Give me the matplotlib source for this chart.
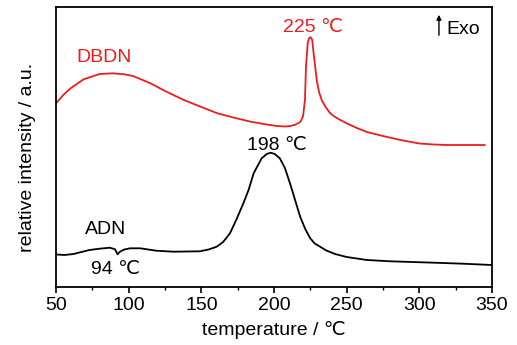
import matplotlib
matplotlib.use("Agg")
import matplotlib.pyplot as plt
from matplotlib.ticker import MultipleLocator

plt.rcParams['font.family'] = ['Liberation Sans', 'DejaVu Sans']

# DBDN curve (temperature / relative intensity, arbitrary units)
dbdn_T = [50, 55, 60, 69, 80, 89, 97, 103, 115, 126, 138, 150, 161, 172, 184, 195, 202, 208,
          211, 214, 217, 218.5, 220, 221.3, 222, 223.2, 224.2, 225.3, 226.3, 227, 228.2, 229.4,
          231, 232.8, 235.5, 238.5, 241, 245, 250, 257, 264, 275, 287, 300, 310, 319, 330, 345]
dbdn_I = [183.7, 192, 198.7, 207.7, 213, 213.7, 212.7, 211, 203.7, 195.3, 187, 180, 173.7, 169.5,
          165.3, 162.5, 161, 160.5, 161, 162, 164, 166, 171, 187, 220.3, 244, 249, 249.7, 247, 237,
          222, 207, 195, 187, 180, 174, 171, 167.5, 163.7, 159, 155, 151, 147, 143.5, 142.5, 142,
          142, 142]

# ADN curve
adn_T = [50, 56, 62, 73, 80, 87, 90.6, 92.4, 94, 97, 101, 108, 119, 131, 140, 149, 155, 160.6,
         165, 169.7, 174, 179, 182.5, 186, 191.5, 195, 197.7, 200.5, 204, 207.5, 211, 214.5, 218,
         221.5, 224.8, 228, 231.7, 236, 242, 250, 264, 280, 310, 330, 350]
adn_I = [32.5, 32, 33, 37, 38.3, 39.3, 37.7, 32.7, 35.3, 37.5, 38.7, 38.7, 36.3, 35.3, 35.5, 35.7,
         37.5, 40.3, 45, 53.7, 67, 84, 97, 113.7, 128.7, 133, 134.3, 133, 128.7, 119, 103.7, 87,
         70.3, 58, 49, 43.5, 40.3, 36.5, 33, 30, 27, 25.7, 24.3, 23.3, 22]

x_ticks = [50, 100, 150, 200, 250, 300, 350]

fig = plt.figure(figsize=(5.17, 3.45), dpi=100)
ax = fig.add_axes([56/517, 58/345, 436/517, 280/345])

ax.plot(dbdn_T, dbdn_I, color='#ee1c1c', lw=1.3)
ax.plot(adn_T, adn_I, color='black', lw=1.3)

ax.set_xlim(50, 350)
ax.set_ylim(0, 280)
ax.set_xticks(x_ticks)
ax.xaxis.set_minor_locator(MultipleLocator(25))
ax.set_yticks([])
fs = 14
ax.tick_params(axis='x', which='major', direction='out', length=4, width=1.2, labelsize=fs, pad=3)
ax.tick_params(axis='x', which='minor', direction='out', length=2.5, width=1.0)
for s in ax.spines.values():
    s.set_linewidth(1.3)

ax.set_xlabel('temperature / ℃', fontsize=fs, labelpad=5)
ax.set_ylabel('relative intensity / a.u.', fontsize=fs)
ax.yaxis.set_label_coords(-0.045, 0.464)

ax.text(226.8, 260, '225 ℃', color='#ee1c1c', fontsize=fs, ha='center', va='center')
ax.text(83, 230, 'DBDN', color='#ee1c1c', fontsize=fs, ha='center', va='center')
ax.text(202, 142, '198 ℃', color='black', fontsize=fs, ha='center', va='center')
ax.text(84.4, 58, 'ADN', color='black', fontsize=fs, ha='center', va='center')
ax.text(90.6, 18, '94 ℃', color='black', fontsize=fs, ha='center', va='center')
ax.text(318.5, 258, 'Exo', color='black', fontsize=fs, ha='left', va='center')
ax.annotate('', xy=(313.5, 275), xytext=(313.5, 249),
            arrowprops=dict(arrowstyle='-|>', color='black', lw=1.0, mutation_scale=7))

fig.savefig('out.png', dpi=100)
